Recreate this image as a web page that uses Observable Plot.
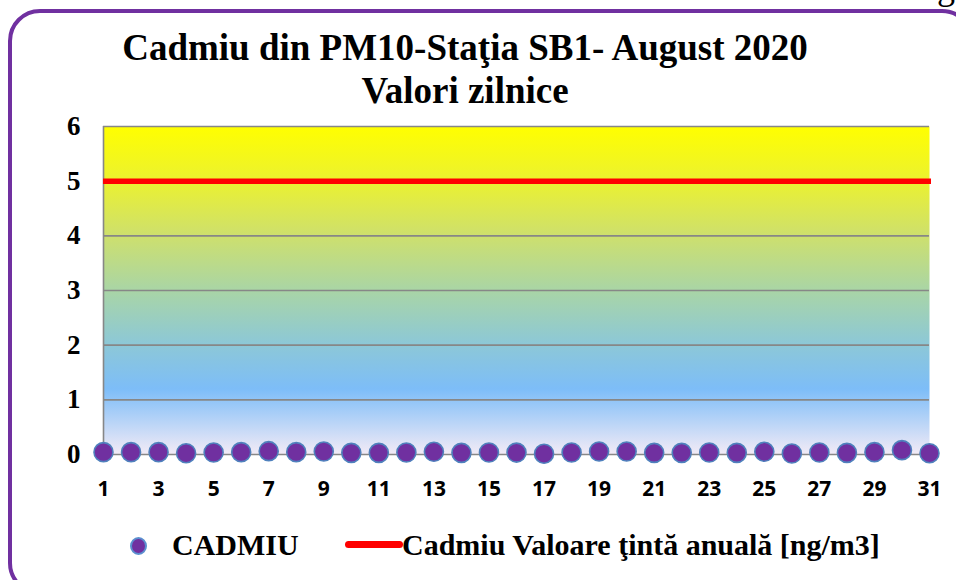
<!DOCTYPE html>
<html>
<head>
<meta charset="utf-8">
<script src="https://cdn.jsdelivr.net/npm/d3@7"></script>
<script src="https://cdn.jsdelivr.net/npm/@observablehq/plot@0.6"></script>
<style>
  html, body { margin: 0; padding: 0; background: #fff; overflow: hidden; }
  #wrap { position: relative; width: 956px; height: 580px; overflow: hidden; }
  #frame { position: absolute; left: 8px; top: 9px; width: 966px; height: 586px; box-sizing: border-box;
           border: 4px solid #7030A0; border-radius: 32px; }
  .serif { font-family: "Liberation Serif", "Times New Roman", Times, serif; }
  #title { position: absolute; left: 0; top: 26px; width: 930px; text-align: center;
           font-weight: bold; font-size: 37px; line-height: 43px; color: #000; }
  #g { position: absolute; left: 937px; top: -31px; font-size: 36px; line-height: 36px; }
  #chart { position: absolute; left: 0; top: 110px; }
  #legend { position: absolute; left: 0; top: 527px; width: 956px; height: 36px;
            font-weight: bold; font-size: 30px; color: #000; }
  #legend .item { position: absolute; top: 0; line-height: 36px; white-space: nowrap; }
  #dotkey { position: absolute; left: 130px; top: 10px; width: 17px; height: 18px; box-sizing: border-box; border-radius: 50%;
            background: #7030A0; border: 2px solid #5B8FCF; }
  #linekey { position: absolute; left: 345px; top: 14px; width: 58px; height: 7px; border-radius: 3.5px; background: #FF0000; }
</style>
</head>
<body>
<div id="wrap">
  <div id="frame"></div>
  <div id="g" class="serif">g</div>
  <div id="title" class="serif">Cadmiu din PM10-Staţia SB1- August 2020<br>Valori zilnice</div>
  <div id="chart"></div>
  <div id="legend" class="serif">
    <span id="dotkey"></span>
    <span class="item" style="left:172px">CADMIU</span>
    <span id="linekey"></span>
    <span class="item" style="left:402px">Cadmiu Valoare ţintă anuală [ng/m3]</span>
  </div>
</div>
<script>
const days = [1,2,3,4,5,6,7,8,9,10,11,12,13,14,15,16,17,18,19,20,21,22,23,24,25,26,27,28,29,30,31];
const cadmiu = [0.043,0.043,0.043,0.024,0.037,0.043,0.061,0.043,0.055,0.030,0.030,0.037,0.049,0.030,0.037,0.035,0.015,0.037,0.055,0.055,0.030,0.030,0.037,0.030,0.049,0.018,0.037,0.030,0.043,0.080,0.024];
const targetValue = 5;
const yTicks = [0,1,2,3,4,5,6];
const xTicks = [1,3,5,7,9,11,13,15,17,19,21,23,25,27,29,31];
const gridValues = [1,2,3,4,6];

const data = days.map((d, i) => ({day: d, value: cadmiu[i]}));
const serif = "Liberation Serif, Times New Roman, serif";

const plot = Plot.plot({
  width: 956,
  height: 400,
  marginTop: 16,
  marginBottom: 56,
  marginLeft: 103,
  marginRight: 27,
  style: {background: "transparent", overflow: "visible"},
  x: {domain: [1, 31], type: "linear", label: null},
  y: {domain: [0, 6], label: null},
  marks: [
    Plot.frame({fill: "url(#bgGrad)", stroke: null}),
    Plot.ruleY(gridValues, {stroke: "#878787", strokeWidth: 1.6}),
    Plot.ruleY([0], {stroke: "#878787", strokeWidth: 1.6}),
    Plot.ruleX([1], {y1: 0, y2: 6, stroke: "#878787", strokeWidth: 1.6}),
    Plot.ruleY([targetValue], {stroke: "#FF0000", strokeWidth: 5.5, insetRight: -2}),
    Plot.axisY(yTicks, {tickSize: 0, tickPadding: 23, label: null, tickFormat: d => String(d), fontFamily: serif, fontWeight: "bold", fontSize: 27, fill: "#000"}),
    Plot.axisX(xTicks, {tickSize: 0, tickPadding: 27, label: null, tickFormat: d => String(d), fontFamily: "Open Sans", fontWeight: "bold", fontSize: 21, fill: "#000"}),
    Plot.dot(data, {x: "day", y: "value", r: 9.5, fill: "#7030A0", stroke: "#4F81BD", strokeWidth: 1.6})
  ]
});

const ns = "http://www.w3.org/2000/svg";
const defs = document.createElementNS(ns, "defs");
const grad = document.createElementNS(ns, "linearGradient");
grad.setAttribute("id", "bgGrad");
grad.setAttribute("x1", "0"); grad.setAttribute("y1", "0");
grad.setAttribute("x2", "0"); grad.setAttribute("y2", "1");
[[0, "#FFFF00"], [0.16, "#ECF22E"], [0.33, "#CEE06C"], [0.5, "#A9D5A6"], [0.66, "#8DC8D6"], [0.8, "#7DBDF8"], [1, "#F3EBF6"]]
  .forEach(([o, c]) => {
    const s = document.createElementNS(ns, "stop");
    s.setAttribute("offset", o);
    s.setAttribute("stop-color", c);
    grad.appendChild(s);
  });
defs.appendChild(grad);
plot.insertBefore(defs, plot.firstChild);
document.getElementById("chart").appendChild(plot);
</script>
</body>
</html>
